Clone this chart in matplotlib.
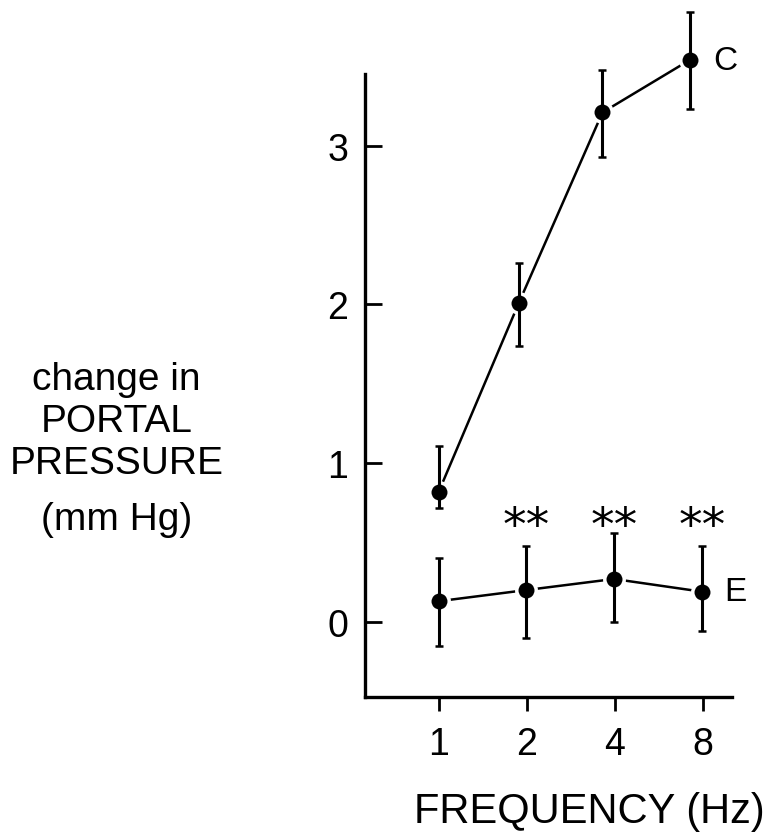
import matplotlib
matplotlib.use("Agg")
import matplotlib.pyplot as plt
import numpy as np

plt.rcParams["font.family"] = ["Liberation Sans", "DejaVu Sans"]

# stimulation frequencies (categorical axis)
freq_labels = ["1", "2", "4", "8"]
freq_pos = [0, 1, 2, 3]

# series C: change in portal pressure (mm Hg), hand-plotted slightly left of the ticks
c_pos = [0.0, 0.91, 1.86, 2.85]
c_mean = [0.82, 2.01, 3.21, 3.54]
c_err_lo = [0.10, 0.27, 0.28, 0.31]
c_err_hi = [0.29, 0.25, 0.27, 0.30]

# series E
e_pos = [0.0, 0.99, 1.99, 2.99]
e_mean = [0.13, 0.20, 0.27, 0.19]
e_err_lo = [0.28, 0.30, 0.27, 0.25]
e_err_hi = [0.27, 0.28, 0.29, 0.29]

# significance marks over E at 2, 4 and 8 Hz
sig_idx = [1, 2, 3]
sig_text = "**"

fig = plt.figure(figsize=(7.68, 8.37), dpi=100)
ax = fig.add_axes([0.475, 0.166, 0.478, 0.744])

for pos, mean, lo, hi in [(c_pos, c_mean, c_err_lo, c_err_hi),
                          (e_pos, e_mean, e_err_lo, e_err_hi)]:
    ax.plot(pos, mean, color="black", lw=1.8, zorder=1, clip_on=False)
    ax.plot(pos, mean, "o", ms=14, mfc="black", mec="white", mew=2.5,
            zorder=2, clip_on=False)
    ax.errorbar(pos, mean, yerr=[lo, hi], fmt="none", ecolor="black",
                elinewidth=2.2, capsize=3, capthick=1.8, zorder=3,
                clip_on=False)

ax.annotate("C", (c_pos[-1], c_mean[-1]), xytext=(17, 0),
            textcoords="offset points", ha="left", va="center", fontsize=24,
            annotation_clip=False)
ax.annotate("E", (e_pos[-1], e_mean[-1]), xytext=(16, 0),
            textcoords="offset points", ha="left", va="center", fontsize=24,
            annotation_clip=False)

for i in sig_idx:
    ax.text(e_pos[i], 0.60, sig_text, ha="center", va="center",
            fontsize=34, family="DejaVu Sans")

ax.set_xlim(-0.84, 3.33)
ax.set_ylim(-0.474, 3.45)
ax.set_xticks(freq_pos)
ax.set_xticklabels(freq_labels)
ax.set_yticks([0, 1, 2, 3])

ax.spines["top"].set_visible(False)
ax.spines["right"].set_visible(False)
for side in ("left", "bottom"):
    ax.spines[side].set_linewidth(2.4)

ax.tick_params(axis="y", direction="in", length=12, width=2, pad=12,
               labelsize=27)
ax.tick_params(axis="x", direction="out", length=10, width=2, pad=11,
               labelsize=27)

fig.text(0.152, 0.496, "change in\nPORTAL\nPRESSURE", ha="center",
         va="center", fontsize=28, linespacing=1.22)
fig.text(0.152, 0.379, "(mm Hg)", ha="center", va="center", fontsize=28)
fig.text(0.768, 0.030, "FREQUENCY (Hz)", ha="center", va="center",
         fontsize=30)

fig.savefig("out.png", dpi=100)
